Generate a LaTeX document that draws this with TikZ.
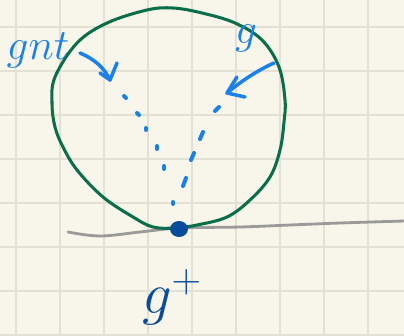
\RequirePackage{fix-cm}
\documentclass[tikz,border=0pt]{standalone}
\usetikzlibrary{arrows.meta}
\definecolor{paper}{HTML}{F8F6EA}
\definecolor{gridc}{HTML}{E3E1D3}
\definecolor{ink}{HTML}{0B6E4A}
\definecolor{lblue}{HTML}{1A80EC}
\definecolor{dblue}{HTML}{0A4C9C}
\definecolor{pencil}{HTML}{9A9A9A}
\tikzset{
  circ/.style={ink, line width=2.6pt},
  tline/.style={pencil, line width=2.4pt},
  hand/.style={lblue, line width=3pt},
  mark dot/.style={lblue, line width=3.4pt},
  lbl/.style={inner sep=0pt},
}
\begin{document}
\begin{tikzpicture}[x=0.03cm, y=-0.03cm, line join=round, line cap=round]
	% paper with grid
	\fill[paper] (0,0) rectangle (404,335);
	\useasboundingbox (0,0) rectangle (404,335);
	\foreach \x in {16,60,...,368}\draw[gridc, line width=1.4pt] (\x,0)--(\x,335);
	\foreach \y in {27,71,...,335}\draw[gridc, line width=1.4pt] (0,\y)--(404,\y);
	% tangent line
	\draw[tline] plot[smooth, tension=.6] coordinates {(68,232) (100,236) (140,232) (180,228) (240,227) (290,225) (340,223) (404,221)};
	% the circle
	\draw[circ] plot[smooth cycle, tension=.6] coordinates {(175,228) (153,227) (133,217) (103,197) (77,170) (63,147) (55,127) (52,103) (55,77) (77,43) (107,23) (147,10) (173,8) (202,13) (235,23) (262,40) (279,67) (285,100) (284,122) (280,150) (270,177) (250,200) (227,217) (197,225)};
	\path
	(179,229) coordinate (P)
	(125,97) coordinate (L)
	(227,93) coordinate (R);
	% dotted paths
	\foreach \a/\b in {{(124,96)}/{(126,98)},{(137,113)}/{(139,115)},{(146,128)}/{(146,130)},{(157,146)}/{(157,149)},{(164,166)}/{(164,169)},{(173,202)}/{(173,204)},
	{(215,111)}/{(219,107)},{(200,139)}/{(203,132)},{(191,160)}/{(194,153)},{(183,186)}/{(186,178)}}
	\draw[mark dot] \a--\b;
	% point
	\fill[dblue] (P) ellipse (9 and 8);
	% labels
	\node[lbl, lblue, font=\fontsize{37}{37}\selectfont] (gnt) at (38,50) {$gnt$};
	\node[lbl, lblue, font=\fontsize{37}{37}\selectfont] (g) at (246,38) {$g$};
	\node[lbl, dblue, font=\fontsize{50}{50}\selectfont] (gplus) at (172,297) {$g^{+}$};
	% arrows
	\path (80,53) coordinate (a1) (110,80) coordinate (a2)
	(274,63) coordinate (b1) (R) coordinate (b2);
	\draw[hand] (a1) .. controls (96,60) and (104,68) .. (a2);
	\draw[hand] (100,73)--(a2)--(117,63);
	\draw[hand] (b1) .. controls (258,70) and (240,82) .. (b2);
	\draw[hand] (237,77)--(b2)--(245,97);
\end{tikzpicture}
\end{document}
